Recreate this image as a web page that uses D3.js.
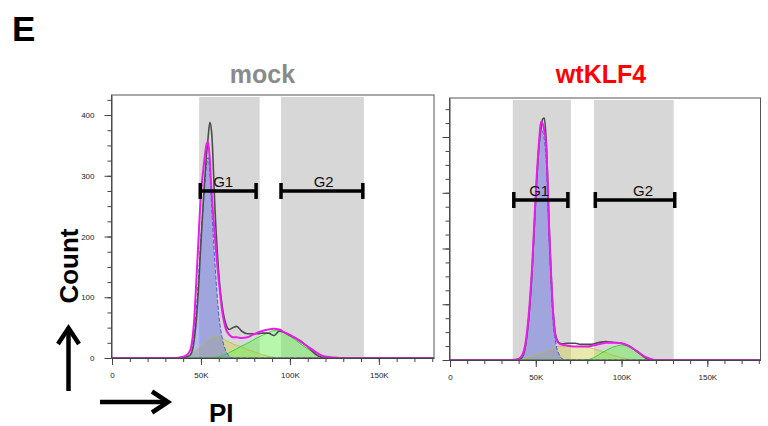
<!DOCTYPE html>
<html>
<head>
<meta charset="utf-8">
<script src="https://cdn.jsdelivr.net/npm/d3@7"></script>
<style>
  body { margin: 0; background: #fff; }
  svg { display: block; }
  text { font-family: "Liberation Sans", Arial, Helvetica, sans-serif; }
</style>
</head>
<body>
<svg id="chart" width="768" height="426"></svg>
<script>
// PI channel sample positions (x 1000)
const pi = [0,36,40,42,44,46,48,50,52,53,54,55,56,58,60,62,64,66,68,70,73,76,79,82,85,88,91,94,97,100,103,106,109,112,115,118,121,124,128,135,181];

// mock: measured histogram, total model fit and cell-cycle components
const mockRaw = [0,0,1,2,5,25,85,190,290,330,362,388,372,238,140,84,56,47,50,52,44,40,40,40,41,41,37,44,42,37,33,28,21,13,5,1,0,0,0,0,0];
const mockFit = [0,0,2,5,13,55,160,270,328,350,356,326,272,195,128,76,48,38,34,34,33,34,38,42,45,47,48,47,42,38,33,27,21,15,9,4,2,1,0,0,0];
const mockG1  = [0,0,0,1,5,38,105,200,278,315,330,305,250,150,72,32,12,3,0,0,0,0,0,0,0,0,0,0,0,0,0,0,0,0,0,0,0,0,0,0,0];
const mockS   = [0,0,0,2,6,10,14,18,24,26,29,32,33,36,35,32,29,26,23,21,18,14,11,8,5,3,1,0,0,0,0,0,0,0,0,0,0,0,0,0,0];
const mockG2  = [0,0,0,0,0,0,0,0,0,0,0,0,0,1,2,4,6,9,12,15,20,24,29,34,38,42,45,45,41,36,30,23,17,11,5,1,0,0,0,0,0];

// wtKLF4
const klfRaw = [0,0,1,5,25,78,168,292,388,415,432,434,398,225,92,40,30,29,30,30,30,28,28,28,30,32,33,32,31,30,27,22,15,8,2,0,0,0,0,0,0];
const klfFit = [0,0,2,8,30,85,175,300,395,427,424,410,388,218,90,36,29,27,26,25,24,24,24,25,27,29,31,31,31,30,27,22,16,9,4,1,0,0,0,0,0];
const klfG1  = [0,0,1,6,27,78,165,290,392,416,410,395,362,205,72,25,8,1,0,0,0,0,0,0,0,0,0,0,0,0,0,0,0,0,0,0,0,0,0,0,0];
const klfS   = [0,0,0,1,3,5,7,9,11,12,13,14,15,17,20,23,25,25,25,25,24,24,23,22,19,16,13,9,7,4,2,1,0,0,0,0,0,0,0,0,0];
const klfG2  = [0,0,0,0,0,0,0,0,0,0,0,0,0,0,0,0,0,0,0,0,0,0,0,2,6,12,17,22,25,27,25,21,15,8,2,0,0,0,0,0,0];

// gates: shaded range, bar range and label position (x 1000)
const mockGates = [
  {name: "G1", shadeLo: 49, shadeHi: 83,    barLo: 49.6, barHi: 81,  labelAt: 62.5},
  {name: "G2", shadeLo: 95, shadeHi: 141.6, barLo: 95,   barHi: 141, labelAt: 119}
];
const klfGates = [
  {name: "G1", shadeLo: 36.6, shadeHi: 70.5,  barLo: 37.2, barHi: 68.7, labelAt: 52},
  {name: "G2", shadeLo: 84,   shadeHi: 130.4, barLo: 84.7, barHi: 131,  labelAt: 112.5}
];

// axis ticks
const xTickValues = [0, 50, 100, 150];
const xTickLabels = ["0", "50K", "100K", "150K"];
const xMinorTicks = d3.range(0, 181, 10);
const yTickValues = [0, 100, 200, 300, 400];
const yTickLabels = ["0", "100", "200", "300", "400"];

const svg = d3.select("#chart");

const panels = [
  {id: "mock", title: "mock", titleColor: "#8a8a8a", titleX: 262.5, titleSize: 25,
   raw: mockRaw, fit: mockFit, g1: mockG1, s: mockS, g2: mockG2, gates: mockGates,
   xMax: 181, yMax: 433, gateLevel: 275, yMinorStep: 25, yLabels: true,
   x0: 112, x1: 434, yTop: 95, yBottom: 358},
  {id: "klf", title: "wtKLF4", titleColor: "#ff0000", titleX: 601, titleSize: 25,
   raw: klfRaw, fit: klfFit, g1: klfG1, s: klfS, g2: klfG2, gates: klfGates,
   xMax: 181, yMax: 470, gateLevel: 287, yMinorStep: 25, yLabels: false,
   x0: 450, x1: 760.5, yTop: 98, yBottom: 360}
];

panels.forEach(p => {
  const x = d3.scaleLinear().domain([0, p.xMax]).range([p.x0, p.x1]);
  const y = d3.scaleLinear().domain([0, p.yMax]).range([p.yBottom, p.yTop]);
  const g = svg.append("g");

  g.append("clipPath").attr("id", "clip-" + p.id)
    .append("rect").attr("x", p.x0).attr("y", p.yTop)
    .attr("width", p.x1 - p.x0).attr("height", p.yBottom - p.yTop);

  // gate shading
  g.selectAll("rect.shade").data(p.gates).join("rect")
    .attr("class", "shade")
    .attr("x", d => x(d.shadeLo))
    .attr("width", d => x(d.shadeHi) - x(d.shadeLo))
    .attr("y", p.yTop + 2)
    .attr("height", p.yBottom - p.yTop - 2)
    .attr("fill", "#d7d7d7");

  const plot = g.append("g").attr("clip-path", `url(#clip-${p.id})`);

  const area = vals => d3.area()
    .x((d, i) => x(pi[i])).y0(y(0)).y1(d => y(d))
    .curve(d3.curveMonotoneX)(vals);
  const line = vals => d3.line()
    .x((d, i) => x(pi[i])).y(d => y(d))
    .curve(d3.curveMonotoneX)(vals);

  // model components
  plot.append("path").attr("d", area(p.s)).attr("fill", "rgba(214,212,92,0.5)");
  plot.append("path").attr("d", area(p.g2)).attr("fill", "rgba(110,240,90,0.5)");
  plot.append("path").attr("d", area(p.g1)).attr("fill", "rgba(105,115,228,0.5)");

  plot.append("path").attr("d", line(p.s)).attr("fill", "none")
    .attr("stroke", "#b9b64a").attr("stroke-width", 0.8);
  plot.append("path").attr("d", line(p.g2)).attr("fill", "none")
    .attr("stroke", "#2fd92f").attr("stroke-width", 1);
  plot.append("path").attr("d", line(p.g1)).attr("fill", "none")
    .attr("stroke", "#3f4fd8").attr("stroke-width", 0.9)
    .attr("stroke-dasharray", "4,2");

  // measured histogram and total fit
  plot.append("path").attr("d", line(p.raw)).attr("fill", "none")
    .attr("stroke", "#4d4d4d").attr("stroke-width", 1.6);
  plot.append("path").attr("d", line(p.fit)).attr("fill", "none")
    .attr("stroke", "#e81ee8").attr("stroke-width", 2);

  // frame
  g.append("rect").attr("x", p.x0 - 0.5).attr("y", p.yTop)
    .attr("width", p.x1 - p.x0 + 0.5).attr("height", p.yBottom - p.yTop)
    .attr("fill", "none").attr("stroke", "#555").attr("stroke-width", 1);

  // x axis
  const xAxis = g.append("g").attr("transform", `translate(0,${p.yBottom})`)
    .call(d3.axisBottom(x).tickValues(xTickValues)
      .tickFormat((d, i) => xTickLabels[i]).tickSize(7).tickPadding(7).tickSizeOuter(0));
  g.append("g").attr("transform", `translate(0,${p.yBottom})`)
    .call(d3.axisBottom(x).tickValues(xMinorTicks).tickFormat("").tickSize(4).tickSizeOuter(0))
    .select(".domain").remove();

  // y axis
  const yAxis = g.append("g").attr("transform", `translate(${p.x0 - 0.5},0)`)
    .call(d3.axisLeft(y).tickValues(yTickValues)
      .tickFormat((d, i) => p.yLabels ? yTickLabels[i] : "").tickSize(7).tickPadding(10).tickSizeOuter(0));
  g.append("g").attr("transform", `translate(${p.x0 - 0.5},0)`)
    .call(d3.axisLeft(y).tickValues(d3.range(0, p.yMax, p.yMinorStep)).tickFormat("").tickSize(4).tickSizeOuter(0))
    .select(".domain").remove();

  g.selectAll(".domain").attr("stroke", "#444");
  g.selectAll(".tick line").attr("stroke", "#444");
  g.selectAll(".tick text").attr("font-size", 8).attr("fill", "#222")
    .attr("font-family", "'Liberation Sans', Arial, sans-serif");

  // gate bars
  const gy = y(p.gateLevel);
  const bars = g.selectAll("g.gate").data(p.gates).join("g").attr("class", "gate");
  bars.append("line").attr("x1", d => x(d.barLo)).attr("x2", d => x(d.barHi))
    .attr("y1", gy).attr("y2", gy).attr("stroke", "#000").attr("stroke-width", 3.5);
  bars.append("line").attr("x1", d => x(d.barLo)).attr("x2", d => x(d.barLo))
    .attr("y1", gy - 8).attr("y2", gy + 8).attr("stroke", "#000").attr("stroke-width", 3.5);
  bars.append("line").attr("x1", d => x(d.barHi)).attr("x2", d => x(d.barHi))
    .attr("y1", gy - 8).attr("y2", gy + 8).attr("stroke", "#000").attr("stroke-width", 3.5);
  bars.append("text").attr("x", d => x(d.labelAt)).attr("y", gy - 4)
    .attr("text-anchor", "middle").attr("font-size", 15).attr("fill", "#111")
    .text(d => d.name);

  // title
  svg.append("text").attr("x", p.titleX).attr("y", 83)
    .attr("text-anchor", "middle").attr("font-size", p.titleSize)
    .attr("font-weight", "bold").attr("fill", p.titleColor).text(p.title);
});

// panel letter
svg.append("text").attr("x", 12).attr("y", 41).attr("font-size", 35)
  .attr("font-weight", "bold").attr("fill", "#000").text("E");

// axis titles with arrows
svg.append("text").attr("transform", "translate(78,266) rotate(-90)")
  .attr("text-anchor", "middle").attr("font-size", 26).attr("font-weight", "bold")
  .attr("fill", "#000").text("Count");
svg.append("text").attr("x", 209).attr("y", 421.5)
  .attr("font-size", 26).attr("font-weight", "bold").attr("fill", "#000").text("PI");

const arrows = svg.append("g").attr("fill", "none").attr("stroke", "#000")
  .attr("stroke-width", 4.5).attr("stroke-linecap", "butt");
arrows.append("line").attr("x1", 68.5).attr("y1", 391).attr("x2", 68.5).attr("y2", 328);
arrows.append("polyline").attr("points", "58,344 68.5,328 79,344");
arrows.append("line").attr("x1", 100).attr("y1", 402).attr("x2", 168).attr("y2", 402);
arrows.append("polyline").attr("points", "152,391.5 168,402 152,412.5");
</script>
</body>
</html>
